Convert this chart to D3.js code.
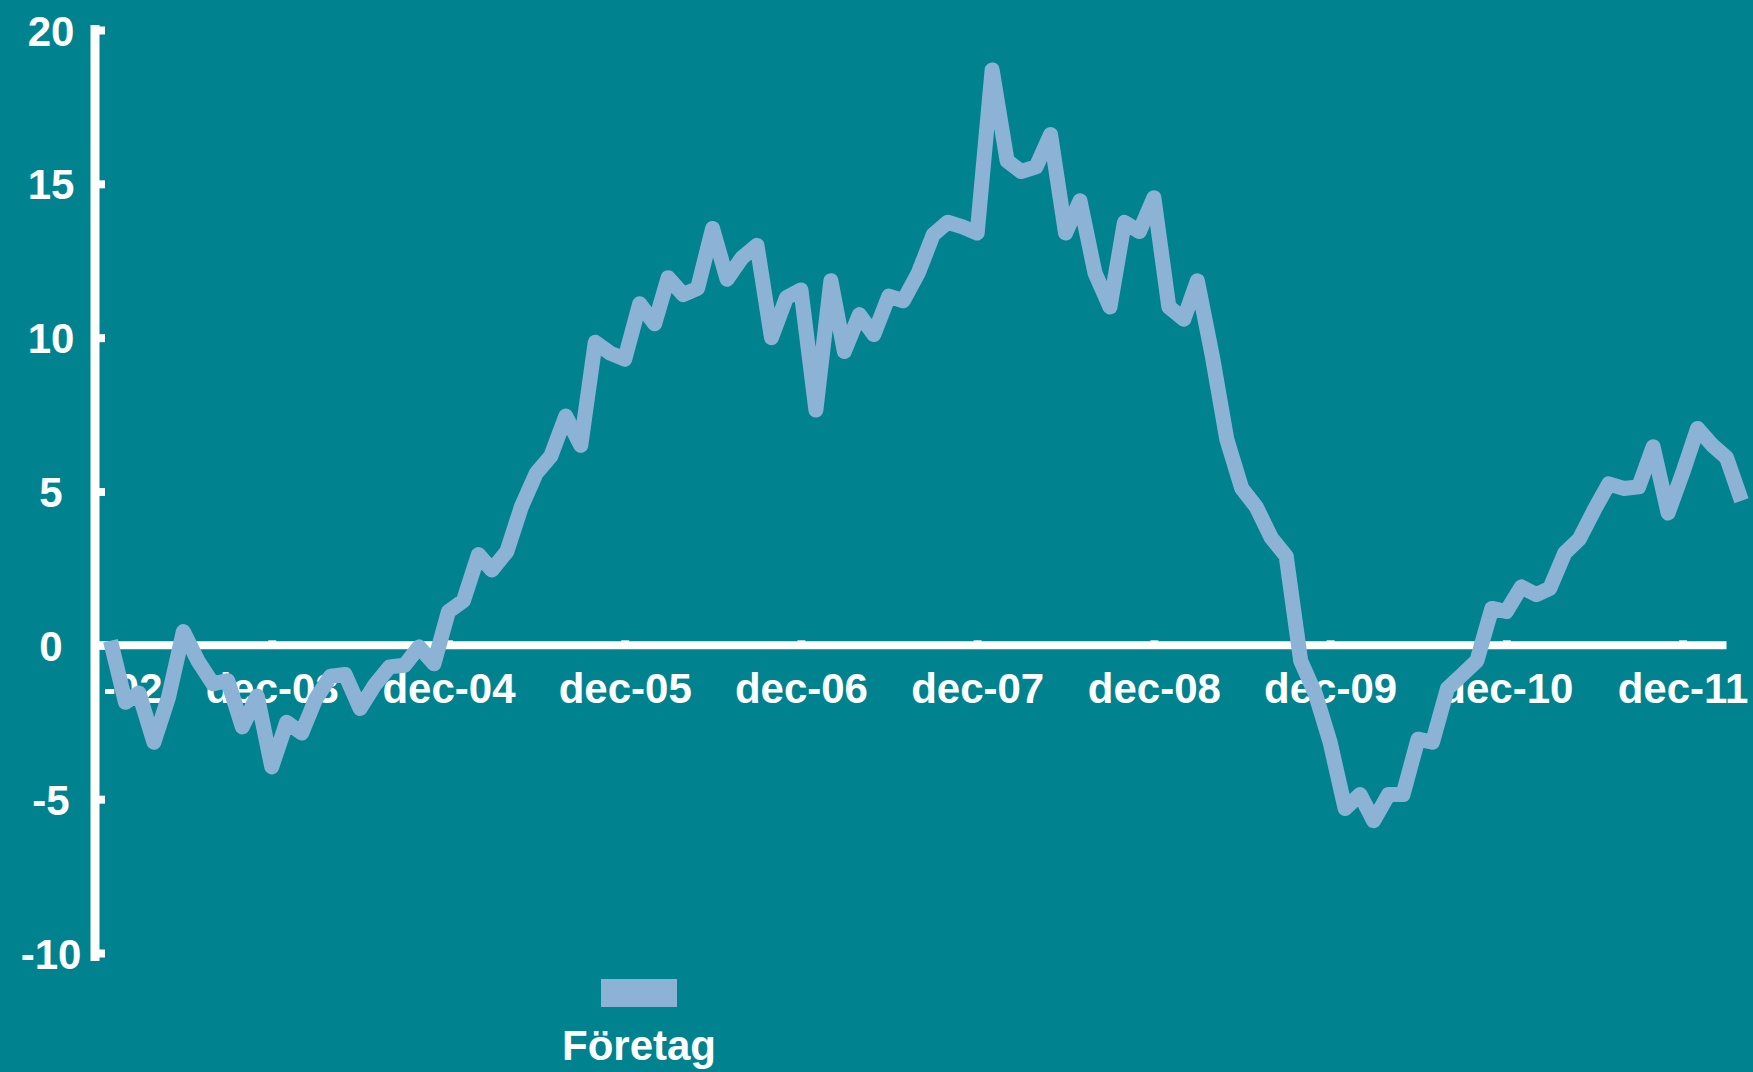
<!DOCTYPE html>
<html>
<head>
<meta charset="utf-8">
<script src="https://cdn.jsdelivr.net/npm/d3@7"></script>
<style>
  html, body { margin: 0; padding: 0; background: #00838f; }
  svg { display: block; }
  text { font-family: "Liberation Sans", Arial, Helvetica, sans-serif; font-weight: bold; fill: #fff; }
</style>
</head>
<body>
<div id="chart"></div>
<script>

// monthly values, first month jan 2003
var firstMonth = new Date(2003, 0, 1);
var foretag = [
  0.15, -1.85, -1.55, -3.15, -1.7, 0.45, -0.5, -1.25, -1.15, -2.65, -1.65, -3.95,
  -2.5, -2.85, -1.75, -1.0, -0.95, -2.05, -1.3, -0.7, -0.65, -0.05, -0.6, 1.1,
  1.45, 2.95, 2.45, 3.05, 4.5, 5.6, 6.15, 7.45, 6.5, 9.85, 9.5, 9.3,
  11.1, 10.45, 11.95, 11.4, 11.6, 13.55, 11.9, 12.6, 13.0, 10.0, 11.3, 11.55,
  7.65, 11.85, 9.55, 10.75, 10.1, 11.35, 11.2, 12.1, 13.35, 13.75, 13.6, 13.4,
  18.7, 15.75, 15.4, 15.55, 16.6, 13.4, 14.45, 12.1, 11.0, 13.75, 13.45, 14.55,
  11.0, 10.6, 11.85, 9.4, 6.7, 5.1, 4.5, 3.5, 2.9, -0.5, -1.6, -3.15,
  -5.3, -4.85, -5.7, -4.85, -4.85, -3.05, -3.15, -1.4, -0.95, -0.5, 1.2, 1.1,
  1.9, 1.65, 1.85, 3.0, 3.45, 4.4, 5.25, 5.1, 5.15, 6.45, 4.3, 5.6,
  7.05, 6.5, 6.1, 4.7
];
var seriesName = "Företag";

var yTicks = [20, 15, 10, 5, 0, -5, -10];
var xTickLabels = ["dec-02", "dec-03", "dec-04", "dec-05", "dec-06", "dec-07", "dec-08", "dec-09", "dec-10", "dec-11"];
var xTickDates = xTickLabels.map(function(d, i) { return new Date(2002 + i, 11, 1); });

var width = 1753;
var height = 1072;
var bg = "#00838f";
var lineColor = "#8cb3d6";

var data = foretag.map(function(v, i) {
  return { date: d3.timeMonth.offset(firstMonth, i), value: v };
});

var svg = d3.select("#chart").append("svg")
  .attr("width", width)
  .attr("height", height);

svg.append("rect")
  .attr("width", width)
  .attr("height", height)
  .attr("fill", bg);

var x = d3.scaleTime()
  .domain([new Date(2002, 11, 1), new Date(2012, 3, 1)])
  .range([95.5, 1741.5]);

var y = d3.scaleLinear()
  .domain([-10, 20])
  .range([953, 30]);

// tick labels are cut off at the left edge of the plot
svg.append("clipPath").attr("id", "plotClip")
  .append("rect")
  .attr("x", 105).attr("y", -y(0))
  .attr("width", width - 105).attr("height", height);

// zero line
svg.append("line")
  .attr("x1", x.range()[0])
  .attr("x2", x(new Date(2012, 2, 1)))
  .attr("y1", y(0))
  .attr("y2", y(0))
  .attr("stroke", "#fff")
  .attr("stroke-width", 8);

// ticks and labels on the zero line
var xAxis = svg.append("g")
  .attr("transform", "translate(0," + y(0) + ")")
  .attr("clip-path", "url(#plotClip)")
  .call(d3.axisBottom(x)
    .tickValues(xTickDates)
    .tickFormat(function(d, i) { return xTickLabels[i]; })
    .tickSizeInner(-5)
    .tickSizeOuter(0));

xAxis.select(".domain").remove();
xAxis.selectAll(".tick line")
  .attr("stroke", "#fff")
  .attr("stroke-width", 8);
xAxis.selectAll(".tick text")
  .attr("y", 58)
  .attr("dy", 0)
  .style("font-size", "42px")
  .attr("fill", "#fff");

// y axis
var yAxis = svg.append("g")
  .attr("transform", "translate(95,0)")
  .call(d3.axisRight(y)
    .tickValues(yTicks)
    .tickFormat(function(d) { return String(d); })
    .tickSizeInner(10)
    .tickSizeOuter(0));

yAxis.select(".domain").remove();
yAxis.append("line")
  .attr("y1", y(20) - 5)
  .attr("y2", y(-10) + 8)
  .attr("stroke", "#fff")
  .attr("stroke-width", 9);
yAxis.selectAll(".tick line")
  .attr("stroke", "#fff")
  .attr("stroke-width", 8);
yAxis.selectAll(".tick text")
  .attr("x", -44)
  .attr("dy", "0.36em")
  .attr("text-anchor", "middle")
  .style("font-size", "42px")
  .attr("fill", "#fff");

svg.selectAll(".tick text").style("font-family", "Liberation Sans, Arial, sans-serif").style("font-weight", "bold");

// the series
var line = d3.line()
  .x(function(d) { return x(d.date); })
  .y(function(d) { return y(d.value); });

svg.append("path")
  .datum(data)
  .attr("d", line)
  .attr("fill", "none")
  .attr("stroke", lineColor)
  .attr("stroke-width", 15)
  .attr("stroke-linejoin", "round")
  .attr("stroke-linecap", "butt");

// legend
var legend = svg.append("g").attr("transform", "translate(639,0)");
legend.append("rect")
  .attr("x", -38).attr("y", 979)
  .attr("width", 76).attr("height", 28)
  .attr("fill", lineColor);
legend.append("text")
  .attr("y", 1060)
  .attr("text-anchor", "middle")
  .style("font-size", "42px")
  .text(seriesName);

</script>
</body>
</html>
